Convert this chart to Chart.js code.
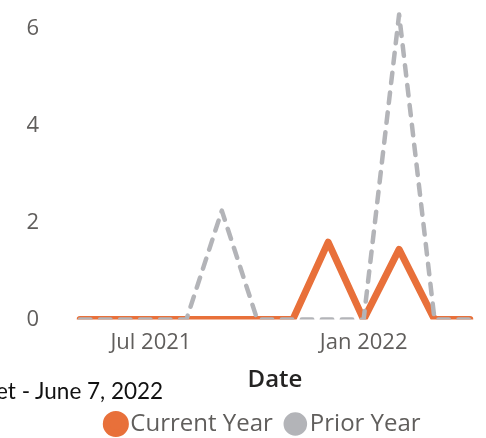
<!DOCTYPE html>
<html>
<head>
<meta charset="utf-8">
<script src="https://cdn.jsdelivr.net/npm/chart.js@4.4.0/dist/chart.umd.min.js"></script>
<style>
  html, body { margin: 0; padding: 0; background: #fff; overflow: hidden; }
  #wrap { position: relative; width: 486px; height: 438px; }
  #note {
    position: absolute; left: -4px; top: 377px;
    font-family: Lato, sans-serif; font-size: 22.5px; color: #111;
    white-space: nowrap;
  }
</style>
</head>
<body>
<div id="wrap">
  <canvas id="grafico" width="486" height="438"></canvas>
  <div id="note">et - June 7, 2022</div>
</div>
<script>
// meses (mai 2021 - abr 2022)
const months = ['May 2021', 'Jun 2021', 'Jul 2021', 'Aug 2021', 'Sep 2021', 'Oct 2021',
                'Nov 2021', 'Dec 2021', 'Jan 2022', 'Feb 2022', 'Mar 2022', 'Apr 2022'];
const currentYear = [0, 0, 0, 0, 0, 0, 0, 1.6, 0, 1.45, 0, 0];
const priorYear = [0, 0, 0, 0, 2.25, 0, 0, 0, 0, 6.3, 0, 0];
const xTickLabels = ['Jul 2021', 'Jan 2022'];
const yTicks = [0, 2, 4, 6];

// desloca a legenda para a direita (como no original)
const legendShift = {
    id: 'legendShift',
    afterLayout(chart) {
        chart.legend.left += 32;
        chart.legend.right += 32;
    }
};

const ctx = document.getElementById('grafico').getContext('2d');

const myChart = new Chart(ctx, {
    type: 'line',
    data: {
        labels: months,
        datasets: [{
            label: 'Current Year',
            data: currentYear,
            borderColor: '#E8703A',
            backgroundColor: '#E8703A',
            borderWidth: 7,
            borderCapStyle: 'round',
            borderJoinStyle: 'round',
            pointRadius: 0,
            tension: 0,
            order: 2
        }, {
            label: 'Prior Year',
            data: priorYear,
            borderColor: '#B3B4B8',
            backgroundColor: '#B3B4B8',
            borderWidth: 4.5,
            borderDash: [10.5, 9.5],
            borderCapStyle: 'round',
            borderJoinStyle: 'round',
            pointRadius: 0,
            tension: 0,
            order: 1
        }]
    },
    options: {
        responsive: false,
        animation: false,
        layout: {
            padding: { top: 0, right: 16, bottom: 0, left: 0 }
        },
        scales: {
            x: {
                grid: { display: false, drawTicks: false },
                border: { display: false },
                ticks: {
                    autoSkip: false,
                    maxRotation: 0,
                    padding: 10,
                    color: '#605E5C',
                    font: { family: 'Open Sans', size: 22 },
                    callback: function (value) {
                        const lbl = this.getLabelForValue(value);
                        return xTickLabels.includes(lbl) ? lbl : '';
                    }
                },
                title: {
                    display: true,
                    text: 'Date',
                    color: '#252423',
                    padding: { top: 2, bottom: 0 },
                    font: { family: 'Open Sans', size: 24, weight: '600', lineHeight: 1 }
                }
            },
            y: {
                min: 0,
                max: 6.6,
                grid: { display: false, drawTicks: false },
                border: { display: false },
                afterBuildTicks: (axis) => {
                    axis.ticks = yTicks.map(v => ({ value: v }));
                },
                afterFit: (axis) => {
                    axis.width = 80;
                    axis.paddingTop = 0;
                    axis.paddingBottom = 0;
                },
                ticks: {
                    padding: 41,
                    color: '#605E5C',
                    font: { family: 'Open Sans', size: 22 }
                }
            }
        },
        plugins: {
            legend: {
                display: true,
                position: 'bottom',
                maxHeight: 46,
                labels: {
                    sort: (a, b) => a.datasetIndex - b.datasetIndex,
                    usePointStyle: true,
                    pointStyle: 'circle',
                    boxWidth: 5,
                    boxHeight: 13.5,
                    padding: 20,
                    color: '#605E5C',
                    font: { family: 'Open Sans', size: 24 }
                }
            },
            tooltip: { enabled: false }
        }
    },
    plugins: [legendShift]
});
</script>
</body>
</html>
